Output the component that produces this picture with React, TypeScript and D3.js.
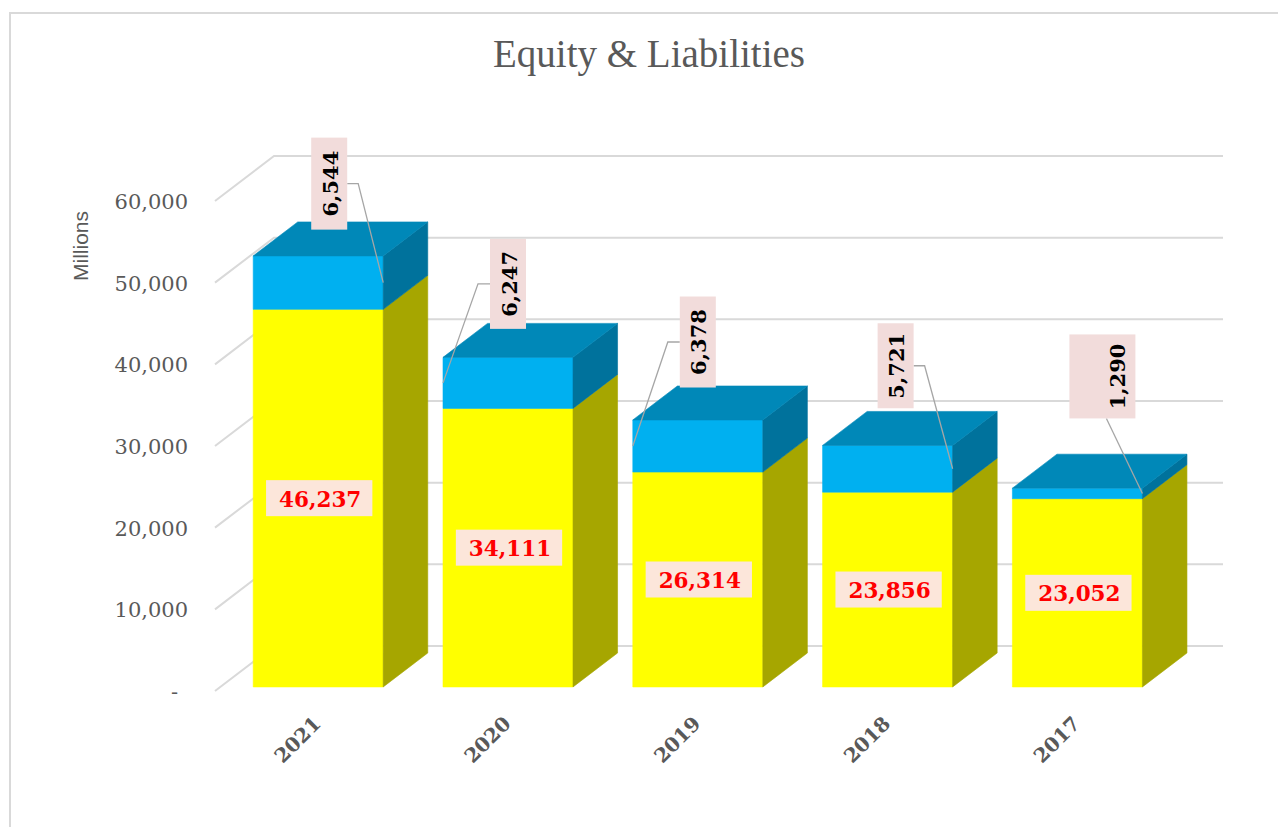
import React, { useEffect, useRef } from 'react';
import * as d3 from 'd3';

// ---- data ----
const years = ['2021', '2020', '2019', '2018', '2017'];
const lowerValues = [46237, 34111, 26314, 23856, 23052]; // yellow segment
const upperValues = [6544, 6247, 6378, 5721, 1290]; // blue segment
const yTicks = [0, 10000, 20000, 30000, 40000, 50000, 60000];
const chartTitle = 'Equity & Liabilities';
const yAxisTitle = 'Millions';

// ---- layout of the upper-segment callouts (relative to the bar) ----
const calloutLayout = [
  { edge: 'right', dx: 11, dy: -99, w: 36, h: 92, leader: 'right', tdx: 0 },
  { edge: 'left', dx: 0, dy: -99, w: 36, h: 90, leader: 'left', tdx: 0 },
  { edge: 'left', dx: 0, dy: -104, w: 36, h: 91, leader: 'left', tdx: 0 },
  { edge: 'right', dx: 8, dy: -103, w: 36, h: 85, leader: 'right', tdx: 0 },
  { edge: 'right', dx: 25, dy: -117, w: 66, h: 84, leader: 'bottom', tdx: 14 },
];

const W = 1278;
const H = 827;

export default function App() {
  const ref = useRef<SVGSVGElement | null>(null);

  useEffect(() => {
    const svg = d3.select(ref.current);
    svg.selectAll('*').remove();

    const x0 = 215;
    const plotW = 949;
    const D = { x: 59, y: -45 };
    const f0 = 0.09;
    const f1 = 0.845;

    const yScale = d3.scaleLinear().domain([0, 60000]).range([691, 201]);
    const xBand = d3
      .scaleBand<string>()
      .domain(years)
      .range([x0 + 3, x0 + 3 + plotW])
      .paddingInner(0.315)
      .paddingOuter(0.1575);

    const grey = '#595959';
    const serif = "'DejaVu Serif', Georgia, serif";

    // border
    svg
      .append('rect')
      .attr('x', 10)
      .attr('y', 13)
      .attr('width', 1300)
      .attr('height', 900)
      .attr('fill', '#fff')
      .attr('stroke', '#d9d9d9')
      .attr('stroke-width', 2);

    // title
    svg
      .append('text')
      .attr('x', 649)
      .attr('y', 67)
      .attr('text-anchor', 'middle')
      .attr('font-family', "'Liberation Serif', 'Times New Roman', serif")
      .attr('font-size', 39)
      .attr('fill', grey)
      .text(chartTitle);

    // gridlines (side wall + back wall)
    const grid = svg.append('g');
    yTicks.forEach((v) => {
      const y = yScale(v);
      grid
        .append('path')
        .attr(
          'd',
          `M${x0},${y}L${x0 + D.x},${y + D.y}L${x0 + plotW + D.x},${y + D.y}`
        )
        .attr('fill', 'none')
        .attr('stroke', '#d9d9d9')
        .attr('stroke-width', 2);
    });

    // y tick labels
    const yl = svg.append('g');
    yTicks.forEach((v) => {
      yl.append('text')
        .attr('x', v === 0 ? 178 : 188)
        .attr('y', yScale(v) + 1)
        .attr('text-anchor', 'end')
        .attr('dominant-baseline', 'central')
        .attr('font-family', serif)
        .attr('font-size', 21)
        .attr('fill', grey)
        .text(v === 0 ? '-' : d3.format(',')(v));
    });

    // y axis title
    svg
      .append('text')
      .attr('transform', `translate(88,246) rotate(-90)`)
      .attr('text-anchor', 'middle')
      .attr('font-family', "'Liberation Sans', Arial, sans-serif")
      .attr('font-size', 21)
      .attr('fill', grey)
      .text(yAxisTitle);

    // bars
    const bdx = (f1 - f0) * D.x;
    const bdy = (f1 - f0) * D.y;
    const offX = f0 * D.x;
    const offY = f0 * D.y;
    const bw = xBand.bandwidth();

    const face = (
      g: d3.Selection<SVGGElement, unknown, null, undefined>,
      pts: [number, number][],
      fill: string
    ) => {
      g.append('path')
        .attr('d', 'M' + pts.map((p) => p.join(',')).join('L') + 'Z')
        .attr('fill', fill)
        .attr('stroke', fill)
        .attr('stroke-width', 0.6);
    };

    const barsG = svg.append('g');
    const labelsG = svg.append('g');

    years.forEach((yr, i) => {
      const g = barsG.append('g');
      const xl = (xBand(yr) as number) + offX;
      const xr = xl + bw;
      const y0 = yScale(0) + offY;
      const yA = yScale(lowerValues[i]) + offY;
      const yB = yScale(lowerValues[i] + upperValues[i]) + offY;

      // lower segment
      face(g, [[xl, y0], [xr, y0], [xr, yA], [xl, yA]], '#FFFF00');
      face(g, [[xr, y0], [xr + bdx, y0 + bdy], [xr + bdx, yA + bdy], [xr, yA]], '#A6A600');
      // upper segment
      face(g, [[xl, yA], [xr, yA], [xr, yB], [xl, yB]], '#00B0F0');
      face(g, [[xr, yA], [xr + bdx, yA + bdy], [xr + bdx, yB + bdy], [xr, yB]], '#00729C');
      face(g, [[xl, yB], [xr, yB], [xr + bdx, yB + bdy], [xl + bdx, yB + bdy]], '#0088B8');

      const cx = (xl + xr) / 2;

      // lower label
      const lg = labelsG.append('g');
      const lt = lg
        .append('text')
        .attr('x', cx + 2)
        .attr('y', (y0 + yA) / 2 + 1)
        .attr('text-anchor', 'middle')
        .attr('dominant-baseline', 'central')
        .attr('font-family', serif)
        .attr('font-weight', 'bold')
        .attr('font-size', 21.5)
        .attr('fill', '#FF0000')
        .text(d3.format(',')(lowerValues[i]));
      const tl = (lt.node() as SVGTextElement).getComputedTextLength();
      lg.insert('rect', 'text')
        .attr('x', cx - tl / 2 - 11)
        .attr('y', (y0 + yA) / 2 - 18)
        .attr('width', tl + 24)
        .attr('height', 36)
        .attr('fill', '#FCE6DA');

      // upper callout
      const L = calloutLayout[i];
      const ax = L.edge === 'right' ? xr : xl;
      const ay = (yA + yB) / 2;
      const bcx = cx + L.dx;
      const bcy = ay + L.dy;
      let pts: [number, number][] = [];
      if (L.leader === 'right') {
        pts = [[bcx + L.w / 2, bcy], [bcx + L.w / 2 + 11, bcy], [ax, ay]];
      } else if (L.leader === 'left') {
        pts = [[bcx - L.w / 2, bcy], [bcx - L.w / 2 - 12, bcy], [ax, ay]];
      } else {
        pts = [[bcx + 4, bcy + L.h / 2], [ax, ay]];
      }
      labelsG
        .append('path')
        .attr('d', 'M' + pts.map((p) => p.join(',')).join('L'))
        .attr('fill', 'none')
        .attr('stroke', '#A6A6A6')
        .attr('stroke-width', 1.3);
      labelsG
        .append('rect')
        .attr('x', bcx - L.w / 2)
        .attr('y', bcy - L.h / 2)
        .attr('width', L.w)
        .attr('height', L.h)
        .attr('fill', '#F2DCDB');
      labelsG
        .append('text')
        .attr('transform', `translate(${bcx + L.tdx + 1},${bcy}) rotate(-90)`)
        .attr('text-anchor', 'middle')
        .attr('dominant-baseline', 'central')
        .attr('font-family', serif)
        .attr('font-weight', 'bold')
        .attr('font-size', 21)
        .attr('fill', '#000')
        .text(d3.format(',')(upperValues[i]));

      // x label
      labelsG
        .append('text')
        .attr('transform', `translate(${cx + 4},${725}) rotate(-45)`)
        .attr('text-anchor', 'end')
        .attr('font-family', serif)
        .attr('font-weight', 'bold')
        .attr('font-size', 20)
        .attr('fill', grey)
        .text(yr);
    });
  }, []);

  return (
    <svg
      ref={ref}
      width={W}
      height={H}
      style={{ position: 'absolute', left: 0, top: 0, background: '#fff' }}
    />
  );
}
